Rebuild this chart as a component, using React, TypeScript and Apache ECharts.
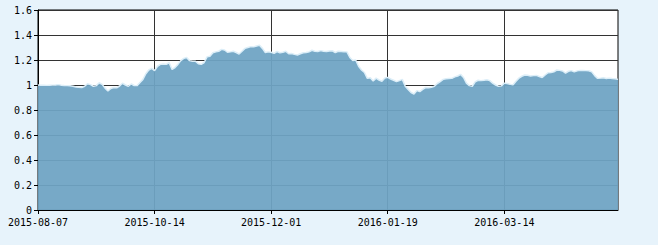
import React, { useEffect, useRef } from "react";
import * as echarts from "echarts";

const tickDates = ["2015-08-07", "2015-10-14", "2015-12-01", "2016-01-19", "2016-03-14"];
const pointsPerTick = 40;

const values = [
  1.0, 0.998, 0.998, 0.997, 0.998, 0.999, 1.0, 1.003, 0.998, 0.996,
  0.995, 0.994, 0.99, 0.984, 0.981, 0.98, 0.99, 1.01, 1.003, 0.99,
  0.995, 1.018, 1.005, 0.975, 0.952, 0.972, 0.98, 0.978, 0.992, 1.014,
  1.0, 0.99, 1.008, 0.996, 0.995, 1.02, 1.045, 1.09, 1.12, 1.133,
  1.115, 1.15, 1.165, 1.168, 1.165, 1.178, 1.125, 1.14, 1.165, 1.195,
  1.213, 1.22, 1.195, 1.19, 1.19, 1.17, 1.165, 1.18, 1.225, 1.23,
  1.258, 1.265, 1.27, 1.285, 1.28, 1.262, 1.265, 1.27, 1.26, 1.248,
  1.27, 1.293, 1.3, 1.307, 1.305, 1.312, 1.318, 1.293, 1.26, 1.265,
  1.262, 1.253, 1.268, 1.258, 1.262, 1.27, 1.25, 1.252, 1.245, 1.24,
  1.25, 1.258, 1.26, 1.265, 1.278, 1.27, 1.268, 1.275, 1.27, 1.268,
  1.272, 1.274, 1.259, 1.27, 1.268, 1.266, 1.265, 1.22, 1.196, 1.2,
  1.15, 1.12, 1.1, 1.053, 1.058, 1.032, 1.055, 1.04, 1.03, 1.056,
  1.061, 1.048, 1.038, 1.027, 1.035, 1.045, 0.99, 0.965, 0.94, 0.928,
  0.955, 0.947, 0.965, 0.98, 0.978, 0.982, 0.99, 1.012, 1.027, 1.045,
  1.05, 1.052, 1.053, 1.065, 1.072, 1.085, 1.06, 1.015, 0.995, 0.99,
  1.025, 1.038, 1.035, 1.038, 1.042, 1.035, 1.015, 1.0, 0.99, 0.993,
  1.015, 1.012, 1.005, 1.002, 1.03, 1.055, 1.07, 1.08, 1.078, 1.072,
  1.075, 1.077, 1.068, 1.06, 1.08, 1.098, 1.1, 1.105, 1.12, 1.117,
  1.112, 1.095, 1.11, 1.115, 1.105, 1.113, 1.117, 1.116, 1.115, 1.114,
  1.105, 1.075, 1.053, 1.055, 1.058, 1.052, 1.055, 1.052, 1.05, 1.045,
];

function fmt(d: Date): string {
  const y = d.getUTCFullYear();
  const m = String(d.getUTCMonth() + 1).padStart(2, "0");
  const day = String(d.getUTCDate()).padStart(2, "0");
  return `${y}-${m}-${day}`;
}

function buildCategories(): string[] {
  const out: string[] = [];
  const ms = tickDates.map((s) => Date.parse(s + "T00:00:00Z"));
  const dayMs = 86400000;
  for (let i = 0; i < values.length; i++) {
    const k = Math.floor(i / pointsPerTick);
    const j = i % pointsPerTick;
    const d0 = ms[Math.min(k, ms.length - 1)];
    let span: number;
    if (k + 1 < ms.length) span = (ms[k + 1] - d0) / dayMs;
    else span = 56;
    const off = Math.round((j * span) / pointsPerTick);
    out.push(fmt(new Date(d0 + off * dayMs)));
  }
  return out;
}

const categories = buildCategories();

export default function App() {
  const ref = useRef<HTMLDivElement>(null);
  useEffect(() => {
    if (!ref.current) return;
    const chart = echarts.init(ref.current, undefined, { renderer: "svg" });
    const font = "DejaVu Sans Mono";
    chart.setOption({
      animation: false,
      backgroundColor: "#e7f3fb",
      grid: {
        left: 38,
        right: 40,
        top: 10,
        bottom: 35,
        show: true,
        backgroundColor: "#ffffff",
        borderColor: "#000000",
        borderWidth: 1,
      },
      xAxis: {
        type: "category",
        data: categories,
        boundaryGap: false,
        axisLine: { lineStyle: { color: "#000000", width: 1 } },
        axisTick: { interval: pointsPerTick - 1, length: 4, lineStyle: { color: "#000000" } },
        axisLabel: {
          interval: pointsPerTick - 1,
          margin: 7,
          color: "#000000",
          fontFamily: font,
          fontSize: 10,
        },
        splitLine: {
          show: true,
          interval: pointsPerTick - 1,
          lineStyle: { color: "#333333", width: 1 },
        },
      },
      yAxis: {
        type: "value",
        min: 0,
        max: 1.6,
        interval: 0.2,
        axisLine: { show: true, lineStyle: { color: "#000000", width: 1 } },
        axisTick: { show: true, length: 4, lineStyle: { color: "#000000" } },
        axisLabel: {
          margin: 6,
          color: "#000000",
          fontFamily: font,
          fontSize: 10,
        },
        splitLine: { show: true, lineStyle: { color: "#333333", width: 1 } },
      },
      series: [
        {
          type: "line",
          data: values,
          showSymbol: false,
          smooth: false,
          lineStyle: { color: "#dceef8", width: 1.5 },
          areaStyle: { color: "rgb(110,164,196)", opacity: 0.94 },
        },
      ],
    });
    return () => chart.dispose();
  }, []);
  return (
    <div
      ref={ref}
      style={{ position: "fixed", left: 0, top: 0, width: 658, height: 245 }}
    />
  );
}
